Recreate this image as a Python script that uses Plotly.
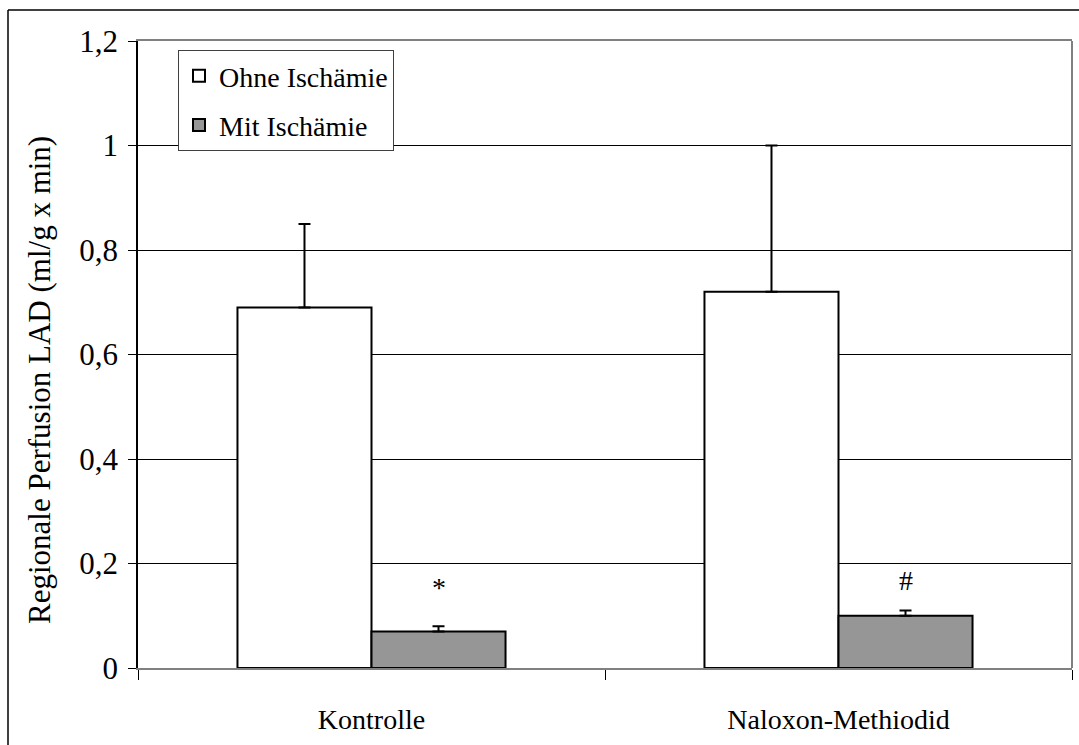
import plotly.graph_objects as go

# Regional LAD perfusion, mean + SD
categories = ["Kontrolle", "Naloxon-Methiodid"]
ohne_values = [0.69, 0.72]
ohne_errors = [0.16, 0.28]
mit_values = [0.07, 0.10]
mit_errors = [0.01, 0.01]
marker_text = ["*", "#"]
marker_y = [0.155, 0.168]
y_ticks = [0, 0.2, 0.4, 0.6, 0.8, 1.0, 1.2]

W, H = 1079, 745
ML, MR, MT, MB = 138, 7, 41, 77
PW, PH = W - ML - MR, H - MT - MB
BARGAP = 0.426
FONT = "Liberation Serif"


def px_x(p):
    return (p - ML) / PW


def px_y(p):
    return (H - MB - p) / PH


fig = go.Figure()
fig.add_trace(go.Bar(
    name="Ohne Ischämie", x=categories, y=ohne_values,
    marker=dict(color="white", line=dict(color="black", width=2)),
    error_y=dict(type="data", array=ohne_errors, arrayminus=[0, 0], symmetric=False,
                 color="black", thickness=2, width=6),
    legendgroup="a",
))
fig.add_trace(go.Bar(
    name="Mit Ischämie", x=categories, y=mit_values,
    marker=dict(color="#969696", line=dict(color="black", width=2)),
    error_y=dict(type="data", array=mit_errors, arrayminus=[0, 0], symmetric=False,
                 color="black", thickness=2, width=6),
    legendgroup="b",
))

# significance markers above the ischemia bars
offset = (1 - BARGAP) / 4
for i, (t, yv) in enumerate(zip(marker_text, marker_y)):
    fig.add_annotation(x=i + offset, y=yv, xref="x", yref="y", text=t, showarrow=False,
                       font=dict(family=FONT, size=28, color="black"), yanchor="middle")

# y-axis title
fig.add_annotation(x=px_x(39), y=px_y(380), xref="paper", yref="paper",
                   text="Regionale Perfusion LAD (ml/g x min)", textangle=-90,
                   showarrow=False, font=dict(family=FONT, size=31, color="black"),
                   xanchor="center", yanchor="middle")

shapes = [
    # right border of the plot area
    dict(type="line", xref="x domain", yref="y domain", x0=1, x1=1, y0=0, y1=1,
         line=dict(color="#808080", width=2)),
    # outer frame
    dict(type="line", xref="paper", yref="paper", x0=px_x(8), x1=px_x(8), y0=px_y(10), y1=px_y(760),
         line=dict(color="black", width=1.5)),
    dict(type="line", xref="paper", yref="paper", x0=px_x(8), x1=px_x(1090), y0=px_y(10), y1=px_y(10),
         line=dict(color="black", width=1.5)),
]

fig.update_layout(
    width=W, height=H, autosize=False,
    margin=dict(l=ML, r=MR, t=MT, b=MB, pad=0),
    paper_bgcolor="white", plot_bgcolor="white",
    separators=",.",
    barmode="group", bargap=BARGAP, bargroupgap=0,
    showlegend=True,
    legend=dict(x=px_x(178), y=px_y(50), xanchor="left", yanchor="top",
                bgcolor="white", bordercolor="#404040", borderwidth=1,
                font=dict(family=FONT, size=28, color="black"),
                traceorder="grouped", tracegroupgap=10, itemwidth=30),
    shapes=shapes,
    xaxis=dict(type="category", showline=True, linecolor="#808080", linewidth=2, mirror=True,
               ticks="outside", ticklen=10, tickcolor="black", tickwidth=1, tickson="boundaries",
               tickfont=dict(family=FONT, size=28, color="black"), ticklabelstandoff=25,
               showgrid=False, zeroline=False),
    yaxis=dict(range=[0, 1.2], tickvals=y_ticks, showline=True, linecolor="black", linewidth=1.5,
               ticks="outside", ticklen=8, tickcolor="black", tickwidth=1,
               tickfont=dict(family=FONT, size=31, color="black"), ticklabelstandoff=4,
               showgrid=True, gridcolor="black", gridwidth=1, zeroline=False),
)

fig.write_html("out.html")
